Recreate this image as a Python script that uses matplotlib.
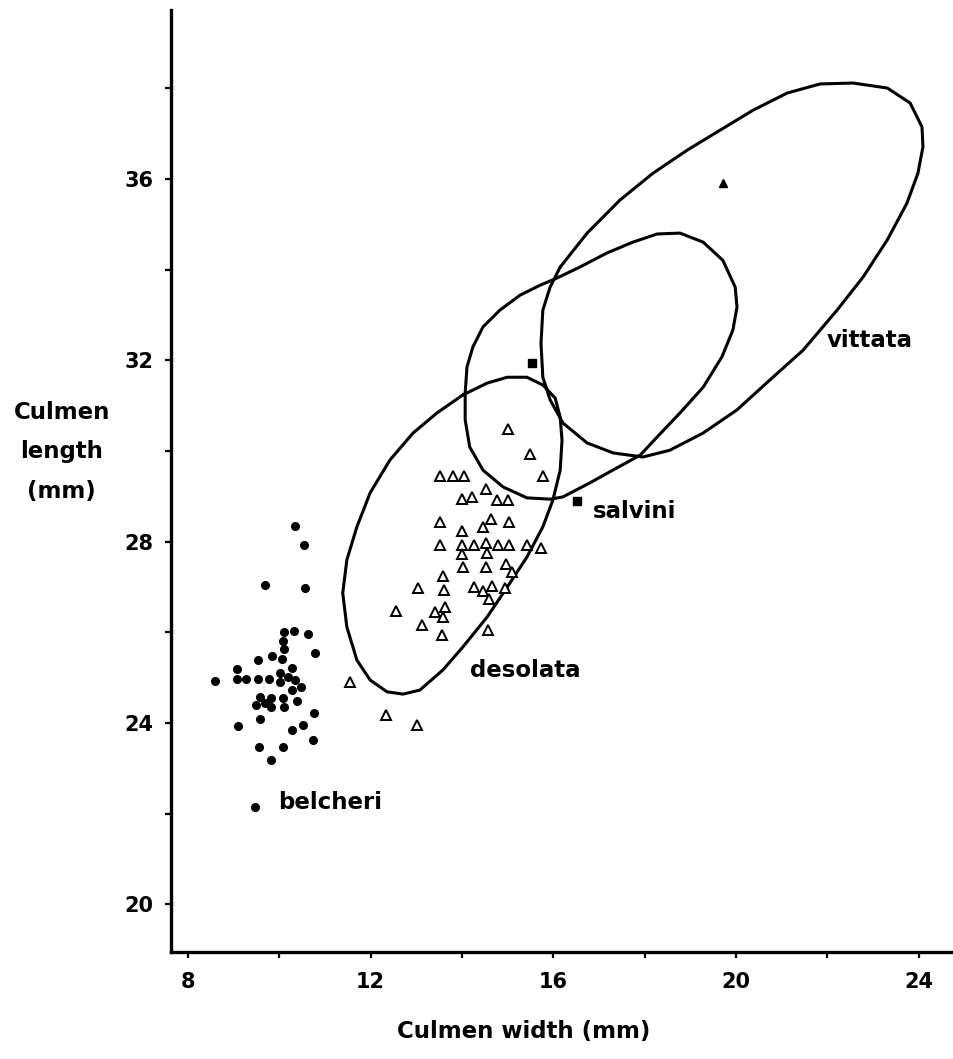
import matplotlib
matplotlib.use("Agg")
import matplotlib.pyplot as plt
from matplotlib.ticker import MultipleLocator

plt.rcParams['font.family'] = ['DejaVu Sans']
plt.rcParams['font.weight'] = 'bold'

# belcheri (filled circles)
bel_x = [8.59, 9.07, 9.07, 9.27, 9.53, 9.77, 10.01, 10.01, 10.19, 10.29, 10.35, 10.48, 10.29,
         9.53, 9.85, 10.07, 10.10, 10.09, 10.11, 10.33, 10.63, 10.78, 9.58, 9.83, 10.09,
         9.49, 9.69, 9.82, 10.11, 10.38, 9.59, 9.09, 10.77, 10.52, 10.28, 10.74, 9.56,
         10.08, 9.82, 10.35, 10.55, 9.69, 10.57]
bel_y = [24.94, 25.20, 24.98, 24.98, 24.97, 24.97, 25.11, 24.91, 25.01, 25.22, 24.95, 24.80, 24.73,
         25.40, 25.49, 25.42, 25.63, 25.82, 26.00, 26.03, 25.97, 25.54, 24.57, 24.55, 24.55,
         24.41, 24.44, 24.35, 24.36, 24.48, 24.10, 23.94, 24.22, 23.96, 23.84, 23.63, 23.47,
         23.47, 23.18, 28.35, 27.94, 27.05, 26.97]

# desolata (open triangles)
des_x = [15.01, 15.50, 15.78, 13.53, 13.81, 14.04, 14.52, 14.23, 14.01, 14.76, 15.00, 13.53,
         14.63, 15.02, 14.01, 14.45, 13.52, 14.01, 14.27, 14.52, 14.79, 15.03, 15.43, 15.72,
         14.01, 14.54, 14.03, 14.53, 14.96, 15.09, 13.59, 13.04, 13.61, 14.26, 14.65, 14.46,
         14.94, 14.59, 12.55, 13.40, 13.63, 13.59, 13.12, 13.57, 14.56, 11.55, 12.34, 13.01]
des_y = [30.48, 29.93, 29.45, 29.45, 29.45, 29.45, 29.16, 28.99, 28.94, 28.92, 28.92, 28.44,
         28.50, 28.44, 28.24, 28.33, 27.94, 27.94, 27.94, 27.97, 27.94, 27.94, 27.94, 27.87,
         27.73, 27.75, 27.44, 27.44, 27.50, 27.33, 27.25, 26.97, 26.94, 27.00, 27.03, 26.91,
         26.97, 26.73, 26.47, 26.45, 26.56, 26.33, 26.17, 25.94, 26.05, 24.91, 24.19, 23.95]

# salvini (filled squares) and vittata (filled triangle)
sal_x = [15.54, 16.51]
sal_y = [31.95, 28.90]
vit_x = [19.71]
vit_y = [35.92]

# outlines (range envelopes)
vit_out_x = [16.15, 16.74, 17.46, 18.18, 18.93, 19.65, 20.37, 21.12, 21.84, 22.56, 23.31, 23.81,
             24.07, 24.09, 23.98, 23.74, 23.31, 22.78, 22.21, 21.47, 20.74, 20.02, 19.28, 18.55,
             17.96, 17.31, 16.74, 16.21, 15.93, 15.77, 15.73, 15.77, 15.93]
vit_out_y = [34.06, 34.81, 35.54, 36.13, 36.64, 37.08, 37.52, 37.90, 38.10, 38.12, 38.01, 37.68,
             37.15, 36.71, 36.13, 35.47, 34.66, 33.84, 33.11, 32.23, 31.57, 30.91, 30.40, 30.02,
             29.87, 29.96, 30.18, 30.62, 31.13, 31.63, 32.38, 33.11, 33.62]

sal_out_x = [14.07, 14.11, 14.24, 14.46, 14.83, 15.27, 15.71, 16.04, 16.58, 17.17, 17.74, 18.27,
             18.77, 19.28, 19.71, 19.98, 20.02, 19.93, 19.69, 19.28, 18.77, 18.27, 17.90, 17.39,
             16.80, 16.21, 15.93, 15.42, 14.90, 14.46, 14.17, 14.07]
sal_out_y = [31.28, 31.86, 32.30, 32.74, 33.11, 33.44, 33.66, 33.80, 34.06, 34.37, 34.61, 34.79,
             34.81, 34.61, 34.21, 33.62, 33.18, 32.67, 32.08, 31.41, 30.84, 30.31, 29.91, 29.63,
             29.30, 28.99, 28.94, 28.97, 29.21, 29.58, 30.09, 30.69]

des_out_x = [14.02, 14.55, 14.99, 15.42, 15.77, 16.04, 16.15, 16.19, 16.15, 15.99, 15.77, 15.42,
             14.99, 14.55, 14.02, 13.58, 13.08, 12.71, 12.36, 11.99, 11.70, 11.48, 11.39, 11.48,
             11.70, 11.99, 12.42, 12.93, 13.45]
des_out_y = [31.24, 31.50, 31.63, 31.63, 31.46, 31.17, 30.75, 30.24, 29.58, 28.92, 28.33, 27.66,
             27.00, 26.34, 25.68, 25.17, 24.73, 24.64, 24.69, 24.95, 25.39, 26.12, 26.87, 27.60,
             28.33, 29.08, 29.80, 30.40, 30.84]

# labels
labels = ["belcheri", "salvini", "desolata", "vittata"]
label_x = [9.97, 16.87, 14.17, 21.98]
label_y = [22.24, 28.66, 25.17, 32.45]
bel_key_x, bel_key_y = [9.48], [22.14]

x_major = [8, 12, 16, 20, 24]
y_major = [20, 24, 28, 32, 36]

fig = plt.figure(figsize=(9.54, 10.59), dpi=100)
ax = fig.add_axes([0.1792, 0.1010, 0.8208, 0.8895])

def closed(a):
    return list(a) + [a[0]]

for ox, oy in [(vit_out_x, vit_out_y), (sal_out_x, sal_out_y), (des_out_x, des_out_y)]:
    ax.plot(closed(ox), closed(oy), color='black', lw=2.2, solid_joinstyle='round',
            solid_capstyle='round', zorder=2)

ax.plot(bel_x, bel_y, 'o', color='black', ms=5.5, zorder=3)
ax.plot(bel_key_x, bel_key_y, 'o', color='black', ms=5.5, zorder=3)
ax.plot(des_x, des_y, '^', mfc='white', mec='black', mew=1.4, ms=6.5, zorder=3)
ax.plot(sal_x, sal_y, 's', color='black', ms=5.5, zorder=3)
ax.plot(vit_x, vit_y, '^', color='black', ms=6, zorder=3)

for t, lx, ly in zip(labels, label_x, label_y):
    ax.text(lx, ly, t, fontsize=16.5, fontweight='bold', ha='left', va='center')

ax.set_xlim(7.63, 24.77)
ax.set_ylim(18.95, 39.73)
ax.set_xticks(x_major)
ax.set_yticks(y_major)
ax.xaxis.set_minor_locator(MultipleLocator(2))
ax.yaxis.set_minor_locator(MultipleLocator(2))

for s in ['top', 'right']:
    ax.spines[s].set_visible(False)
for s in ['left', 'bottom']:
    ax.spines[s].set_linewidth(2.4)

ax.tick_params(which='both', direction='out', length=4.5, width=1.6)
ax.tick_params(axis='x', which='major', pad=10, labelsize=15)
ax.tick_params(axis='y', which='major', pad=8, labelsize=15)
for lab in ax.get_xticklabels() + ax.get_yticklabels():
    lab.set_fontweight('bold')

ax.set_xlabel("Culmen width (mm)", fontsize=16.5, fontweight='bold')
ax.xaxis.set_label_coords(0.451, -0.072)
ax.set_ylabel("Culmen\nlength\n(mm)", fontsize=16.5, fontweight='bold', rotation=0,
              ha='center', va='center', linespacing=1.9)
ax.yaxis.set_label_coords(-0.1396, 0.531)

fig.savefig("out.png", dpi=100)
